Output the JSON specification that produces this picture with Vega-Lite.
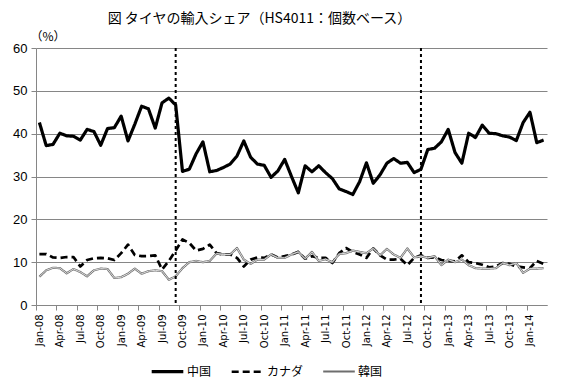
{
  "$schema": "https://vega.github.io/schema/vega-lite/v6.json",
  "width": 511,
  "height": 257,
  "autosize": "none",
  "padding": {"left": 36, "top": 48, "right": 15, "bottom": 87},
  "background": "white",
  "title": {"text": "図 タイヤの輸入シェア（HS4011：個数ベース）", "font": "Noto Sans CJK JP", "fontSize": 14, "fontWeight": "normal", "color": "#000", "anchor": "middle", "dx": -32, "offset": 4},
  "config": {"view": {"stroke": null}},
  "datasets": {
    "share": [
      {"m":"Jan-08","中国":42.6,"カナダ":11.9,"韓国":6.6},
      {"m":"Feb-08","中国":37.2,"カナダ":11.9,"韓国":8.1},
      {"m":"Mar-08","中国":37.5,"カナダ":11.1,"韓国":8.7},
      {"m":"Apr-08","中国":40.1,"カナダ":11.0,"韓国":8.6},
      {"m":"May-08","中国":39.5,"カナダ":11.2,"韓国":7.4},
      {"m":"Jun-08","中国":39.4,"カナダ":11.2,"韓国":8.4},
      {"m":"Jul-08","中国":38.5,"カナダ":9.0,"韓国":7.7},
      {"m":"Aug-08","中国":41.0,"カナダ":10.5,"韓国":6.7},
      {"m":"Sep-08","中国":40.5,"カナダ":10.9,"韓国":8.1},
      {"m":"Oct-08","中国":37.3,"カナダ":11.0,"韓国":8.5},
      {"m":"Nov-08","中国":41.2,"カナダ":10.9,"韓国":8.4},
      {"m":"Dec-08","中国":41.4,"カナダ":10.5,"韓国":6.3},
      {"m":"Jan-09","中国":44.1,"カナダ":12.1,"韓国":6.5},
      {"m":"Feb-09","中国":38.3,"カナダ":14.1,"韓国":7.3},
      {"m":"Mar-09","中国":42.2,"カナダ":11.7,"韓国":8.5},
      {"m":"Apr-09","中国":46.4,"カナダ":11.4,"韓国":7.3},
      {"m":"May-09","中国":45.8,"カナダ":11.4,"韓国":7.9},
      {"m":"Jun-09","中国":41.3,"カナダ":11.6,"韓国":8.1},
      {"m":"Jul-09","中国":47.2,"カナダ":8.3,"韓国":7.9},
      {"m":"Aug-09","中国":48.3,"カナダ":10.3,"韓国":5.9},
      {"m":"Sep-09","中国":46.7,"カナダ":12.7,"韓国":6.7},
      {"m":"Oct-09","中国":31.2,"カナダ":15.3,"韓国":8.6},
      {"m":"Nov-09","中国":31.7,"カナダ":14.5,"韓国":10.0},
      {"m":"Dec-09","中国":35.3,"カナダ":12.7,"韓国":10.3},
      {"m":"Jan-10","中国":38.1,"カナダ":13.1,"韓国":10.0},
      {"m":"Feb-10","中国":31.1,"カナダ":14.1,"韓国":10.3},
      {"m":"Mar-10","中国":31.4,"カナダ":12.1,"韓国":12.0},
      {"m":"Apr-10","中国":32.1,"カナダ":11.8,"韓国":11.8},
      {"m":"May-10","中国":32.9,"カナダ":11.8,"韓国":11.8},
      {"m":"Jun-10","中国":34.8,"カナダ":11.0,"韓国":13.3},
      {"m":"Jul-10","中国":38.3,"カナダ":9.0,"韓国":10.6},
      {"m":"Aug-10","中国":34.5,"カナダ":10.6,"韓国":9.6},
      {"m":"Sep-10","中国":32.9,"カナダ":11.1,"韓国":10.6},
      {"m":"Oct-10","中国":32.6,"カナダ":11.0,"韓国":10.6},
      {"m":"Nov-10","中国":29.8,"カナダ":11.8,"韓国":11.8},
      {"m":"Dec-10","中国":31.3,"カナダ":11.1,"韓国":11.0},
      {"m":"Jan-11","中国":34.0,"カナダ":11.4,"韓国":11.0},
      {"m":"Feb-11","中国":30.0,"カナダ":11.8,"韓国":11.8},
      {"m":"Mar-11","中国":26.2,"カナダ":12.4,"韓国":12.4},
      {"m":"Apr-11","中国":32.5,"カナダ":10.8,"韓国":10.8},
      {"m":"May-11","中国":31.1,"カナダ":11.4,"韓国":12.4},
      {"m":"Jun-11","中国":32.5,"カナダ":11.0,"韓国":10.3},
      {"m":"Jul-11","中国":30.9,"カナダ":11.0,"韓国":10.7},
      {"m":"Aug-11","中国":29.5,"カナダ":9.8,"韓国":10.0},
      {"m":"Sep-11","中国":27.1,"カナダ":12.1,"韓国":11.9},
      {"m":"Oct-11","中国":26.5,"カナダ":13.3,"韓国":12.1},
      {"m":"Nov-11","中国":25.8,"カナダ":12.4,"韓国":12.7},
      {"m":"Dec-11","中国":28.8,"カナダ":11.8,"韓国":12.4},
      {"m":"Jan-12","中国":33.2,"カナダ":11.0,"韓国":12.1},
      {"m":"Feb-12","中国":28.4,"カナダ":13.2,"韓国":13.2},
      {"m":"Mar-12","中国":30.4,"カナダ":11.6,"韓国":11.6},
      {"m":"Apr-12","中国":33.1,"カナダ":10.6,"韓国":13.1},
      {"m":"May-12","中国":34.2,"カナダ":10.6,"韓国":11.8},
      {"m":"Jun-12","中国":33.1,"カナダ":10.8,"韓国":11.0},
      {"m":"Jul-12","中国":33.3,"カナダ":9.3,"韓国":13.2},
      {"m":"Aug-12","中国":30.9,"カナダ":11.0,"韓国":11.1},
      {"m":"Sep-12","中国":31.7,"カナダ":11.6,"韓国":11.4},
      {"m":"Oct-12","中国":36.3,"カナダ":11.0,"韓国":11.0},
      {"m":"Nov-12","中国":36.6,"カナダ":11.1,"韓国":11.4},
      {"m":"Dec-12","中国":38.1,"カナダ":10.5,"韓国":9.3},
      {"m":"Jan-13","中国":41.0,"カナダ":10.3,"韓国":10.6},
      {"m":"Feb-13","中国":35.6,"カナダ":10.2,"韓国":10.0},
      {"m":"Mar-13","中国":33.1,"カナダ":11.6,"韓国":10.6},
      {"m":"Apr-13","中国":40.1,"カナダ":10.0,"韓国":9.3},
      {"m":"May-13","中国":39.1,"カナダ":9.8,"韓国":8.6},
      {"m":"Jun-13","中国":42.0,"カナダ":9.4,"韓国":8.5},
      {"m":"Jul-13","中国":40.1,"カナダ":8.8,"韓国":8.5},
      {"m":"Aug-13","中国":40.0,"カナダ":9.0,"韓国":8.6},
      {"m":"Sep-13","中国":39.5,"カナダ":9.8,"韓国":9.8},
      {"m":"Oct-13","中国":39.2,"カナダ":9.6,"韓国":9.3},
      {"m":"Nov-13","中国":38.4,"カナダ":9.0,"韓国":9.8},
      {"m":"Dec-13","中国":42.6,"カナダ":8.8,"韓国":7.5},
      {"m":"Jan-14","中国":45.0,"カナダ":8.6,"韓国":8.5},
      {"m":"Feb-14","中国":37.9,"カナダ":10.3,"韓国":8.5},
      {"m":"Mar-14","中国":38.5,"カナダ":9.6,"韓国":8.6}
    ],
    "breaks": [{"m": "Sep-09"}, {"m": "Sep-12"}]
  },
  "encoding": {
    "x": {
      "field": "m", "type": "ordinal", "sort": null,
      "scale": {"type": "point", "padding": 0.5},
      "axis": {
        "title": null,
        "values": ["Jan-08","Apr-08","Jul-08","Oct-08","Jan-09","Apr-09","Jul-09","Oct-09","Jan-10","Apr-10","Jul-10","Oct-10","Jan-11","Apr-11","Jul-11","Oct-11","Jan-12","Apr-12","Jul-12","Oct-12","Jan-13","Apr-13","Jul-13","Oct-13","Jan-14"],
        "labelAngle": -90, "labelAlign": "right", "labelBaseline": "middle",
        "tickOffset": -3.41, "labelOffset": 3.41,
        "labelFont": "DejaVu Sans", "labelFontSize": 10, "labelColor": "#000", "labelPadding": 4,
        "domainColor": "#868686", "tickColor": "#868686", "tickSize": 5, "grid": false
      }
    }
  },
  "layer": [
    {
      "data": {"name": "share"},
      "transform": [{"fold": ["中国", "カナダ", "韓国"], "as": ["series", "value"]}],
      "mark": {"type": "line", "strokeJoin": "round"},
      "encoding": {
        "y": {
          "field": "value", "type": "quantitative",
          "scale": {"domain": [0, 60], "nice": false, "zero": true},
          "axis": {
            "title": "（%）", "titleAngle": 0, "titleAlign": "left", "titleBaseline": "middle",
            "titleX": -6, "titleY": -12, "titleFont": "Noto Sans CJK JP", "titleFontSize": 12, "titleFontWeight": "normal", "titleColor": "#000",
            "values": [0, 10, 20, 30, 40, 50, 60],
            "grid": true, "gridColor": "#868686", "domainColor": "#868686", "tickColor": "#868686", "tickSize": 5,
            "labelFont": "Liberation Sans", "labelFontSize": 13, "labelColor": "#000", "labelPadding": 4
          }
        },
        "color": {
          "field": "series", "type": "nominal",
          "scale": {"domain": ["中国", "カナダ", "韓国"], "range": ["#000000", "#000000", "#6e6e6e"]},
          "legend": {
            "title": null, "orient": "none", "direction": "horizontal", "legendX": 114, "legendY": 306,
            "symbolType": "stroke", "symbolSize": 1000, "labelFont": "Noto Sans CJK JP", "labelFontSize": 12, "labelColor": "#000", "columnPadding": 14, "labelOffset": 2
          }
        },
        "strokeDash": {
          "field": "series", "type": "nominal",
          "scale": {"domain": ["中国", "カナダ", "韓国"], "range": [[1, 0], [7, 4], [1, 0]]}
        },
        "strokeWidth": {
          "field": "series", "type": "nominal",
          "scale": {"domain": ["中国", "カナダ", "韓国"], "range": [3.2, 2.2, 3]}
        }
      }
    },
    {
      "data": {"name": "share"},
      "mark": {"type": "line", "color": "#dcdcdc", "strokeWidth": 1},
      "encoding": {"y": {"field": "韓国", "type": "quantitative"}}
    },
    {
      "data": {"name": "breaks"},
      "mark": {"type": "rule", "color": "#000", "strokeWidth": 2, "strokeDash": [3, 3]},
      "encoding": {}
    }
  ]
}
